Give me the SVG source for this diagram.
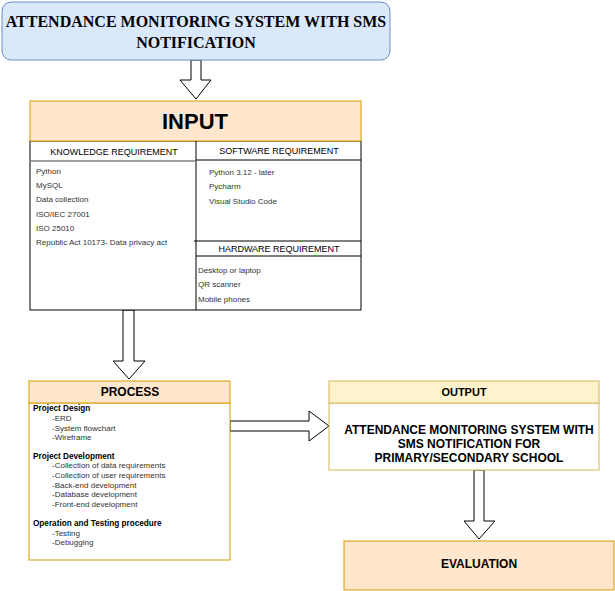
<svg xmlns="http://www.w3.org/2000/svg" width="615" height="591" viewBox="0 0 615 591">
<style>
.sans{font-family:"Liberation Sans",Arial,sans-serif}
.arrow{fill:#ffffff;stroke:#000000;stroke-width:1}
.hdr{fill:#ffe6cc;stroke:#d79b00;stroke-width:1}
.tbl{fill:#ffffff;stroke:#000000;stroke-width:1}
.lst{font-family:"Liberation Sans",Arial,sans-serif;font-size:8px;fill:#333333}
.sub{font-family:"Liberation Sans",Arial,sans-serif;font-size:9px;fill:#000000;text-anchor:middle}
.pb{font-family:"Liberation Sans",Arial,sans-serif;font-size:8.2px;font-weight:bold;fill:#000000}
.pi{font-family:"Liberation Sans",Arial,sans-serif;font-size:8px;fill:#333333}
</style>
<rect width="615" height="591" fill="#ffffff"/>
<g id="connectors">
  <path class="arrow" d="M191,60 L201,60 L201,80 L211,80 L196,99 L180,80 L191,80 Z"/>
  <path class="arrow" d="M123,310 L134,310 L134,361 L145,361 L129,379 L113,361 L123,361 Z"/>
  <path class="arrow" d="M230,421 L309,421 L309,411 L329,426 L309,441 L309,431 L230,431 Z"/>
  <path class="arrow" d="M474,470 L484,470 L484,521 L495,521 L479,539 L464,521 L474,521 Z"/>
</g>
<g id="title">
  <rect x="2" y="2" width="388" height="58" rx="9" ry="9" fill="#dae8fc" stroke="#6c8ebf" stroke-width="1"/>
  <text x="196" y="27" text-anchor="middle" font-family="'Liberation Serif','Times New Roman',serif" font-weight="bold" font-size="16" fill="#000">ATTENDANCE MONITORING SYSTEM WITH SMS</text>
  <text x="196" y="48" text-anchor="middle" font-family="'Liberation Serif','Times New Roman',serif" font-weight="bold" font-size="16" fill="#000">NOTIFICATION</text>
</g>
<g id="input">
  <rect class="tbl" x="30" y="141" width="331" height="169"/>
  <rect class="hdr" x="30" y="101" width="331" height="40"/>
  <text class="sans" x="195" y="129" text-anchor="middle" font-size="22" font-weight="bold" fill="#000">INPUT</text>
  <line x1="196" y1="141" x2="196" y2="310" stroke="#000"/>
  <line x1="31" y1="161" x2="196" y2="161" stroke="#808080" stroke-width="1.5"/>
  <line x1="196" y1="160" x2="361" y2="160" stroke="#000"/>
  <line x1="194" y1="241" x2="361" y2="241" stroke="#000"/>
  <line x1="196" y1="256" x2="361" y2="256" stroke="#000"/>
  <text class="sub" x="114" y="155">KNOWLEDGE REQUIREMENT</text>
  <text class="sub" x="279" y="154">SOFTWARE REQUIREMENT</text>
  <text class="sub" x="279" y="252">HARDWARE REQUIREMENT</text>
  <text class="lst" x="36" y="174">Python</text>
  <text class="lst" x="36" y="188">MySQL</text>
  <text class="lst" x="36" y="202">Data collection</text>
  <text class="lst" x="36" y="217">ISO/IEC 27001</text>
  <text class="lst" x="36" y="231">ISO 25010</text>
  <text class="lst" x="36" y="245">Republic Act 10173- Data privacy act</text>
  <text class="lst" x="209" y="175">Python 3.12 - later</text>
  <text class="lst" x="209" y="189">Pycharm</text>
  <text class="lst" x="209" y="204">Visual Studio Code</text>
  <text class="lst" x="198" y="273">Desktop or laptop</text>
  <text class="lst" x="198" y="287">QR scanner</text>
  <text class="lst" x="198" y="302">Mobile phones</text>
</g>
<g id="process">
  <rect x="29" y="403" width="201" height="157" fill="#ffffff" stroke="#d79b00"/>
  <rect class="hdr" x="29" y="381" width="201" height="22"/>
  <text class="sans" x="130" y="396" text-anchor="middle" font-size="12" font-weight="bold" fill="#000">PROCESS</text>
  <text class="pb" x="33" y="411">Project Design</text>
  <text class="pi" x="52" y="421">-ERD</text>
  <text class="pi" x="52" y="431">-System flowchart</text>
  <text class="pi" x="52" y="440">-Wireframe</text>
  <text class="pb" x="33" y="459">Project Development</text>
  <text class="pi" x="52" y="468">-Collection of data requirements</text>
  <text class="pi" x="52" y="478">-Collection of user requirements</text>
  <text class="pi" x="52" y="488">-Back-end development</text>
  <text class="pi" x="52" y="497">-Database development</text>
  <text class="pi" x="52" y="507">-Front-end development</text>
  <text class="pb" x="33" y="526">Operation and Testing procedure</text>
  <text class="pi" x="52" y="536">-Testing</text>
  <text class="pi" x="52" y="545">-Debugging</text>
</g>
<g id="output">
  <rect x="329" y="403" width="270" height="67" fill="#ffffff" stroke="#d6b656"/>
  <rect x="329" y="381" width="270" height="22" fill="#fff2cc" stroke="#d6b656"/>
  <text class="sans" x="464" y="396" text-anchor="middle" font-size="11" font-weight="bold" fill="#000">OUTPUT</text>
  <text class="sans" x="469" y="434" text-anchor="middle" font-size="12" font-weight="bold" fill="#000">ATTENDANCE MONITORING SYSTEM WITH</text>
  <text class="sans" x="469" y="448" text-anchor="middle" font-size="12" font-weight="bold" fill="#000">SMS NOTIFICATION FOR</text>
  <text class="sans" x="469" y="462" text-anchor="middle" font-size="12" font-weight="bold" fill="#000">PRIMARY/SECONDARY SCHOOL</text>
</g>
<g id="evaluation">
  <rect class="hdr" x="344" y="541" width="270" height="49"/>
  <text class="sans" x="479" y="568" text-anchor="middle" font-size="12" font-weight="bold" fill="#000">EVALUATION</text>
</g>
</svg>
